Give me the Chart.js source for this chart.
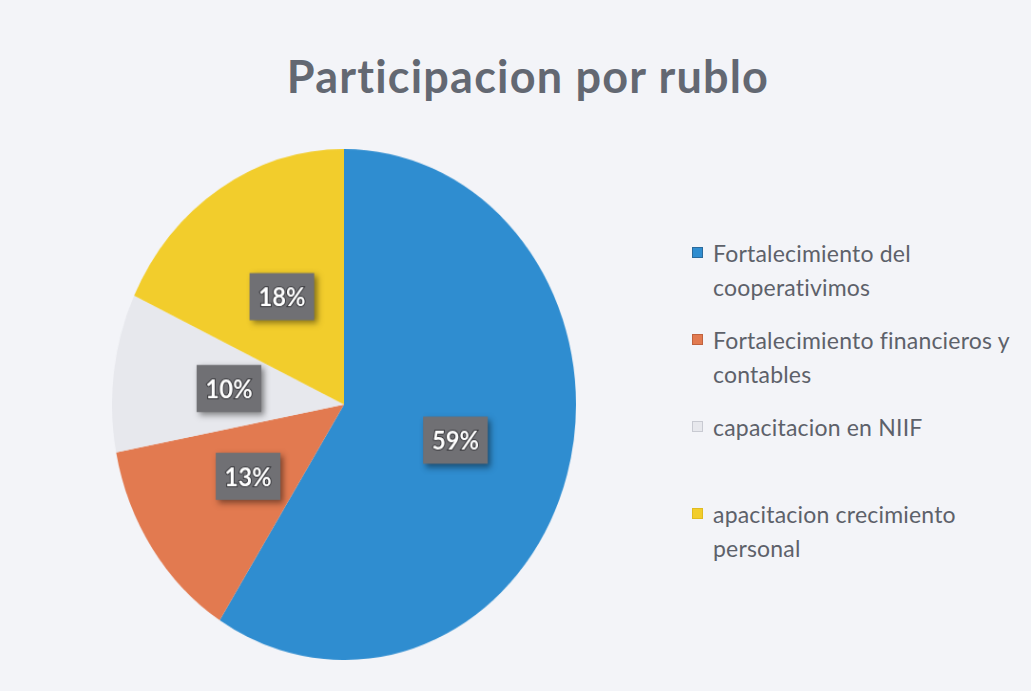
<!DOCTYPE html>
<html>
<head>
<meta charset="utf-8">
<script src="https://cdn.jsdelivr.net/npm/chart.js@4.4.1/dist/chart.umd.min.js"></script>
<style>
  html, body { margin: 0; padding: 0; background: #f3f4f8; }
  #wrap { position: relative; width: 1031px; height: 691px; overflow: hidden; }
  #title {
    position: absolute; left: 0; width: 1056px; top: 49px; text-align: center;
    font-family: Lato, "Open Sans", sans-serif; font-weight: bold; font-size: 45px;
    color: #636872; letter-spacing: 1.2px;
  }
  #myChart { position: absolute; left: 112px; top: 149px; }
  #legend { position: absolute; left: 692px; top: 236px; font-family: Lato, "Open Sans", sans-serif;
    font-size: 23px; color: #5d616a; line-height: 34px; letter-spacing: 0.2px; }
  .item { position: relative; height: 87px; padding-left: 21px; width: 330px; }
  .box { position: absolute; left: 0; top: 11px; width: 9px; height: 9px; }
</style>
</head>
<body>
<div id="wrap">
  <div id="title">Participacion por rublo</div>
  <canvas id="myChart" width="488" height="488"></canvas>
  <div id="legend"></div>
</div>
<script>
var labels = [
  ["Fortalecimiento del", "cooperativimos"],
  ["Fortalecimiento financieros y", "contables"],
  ["capacitacion en NIIF"],
  ["apacitacion crecimiento", "personal"]
];
var values = [59, 13, 10, 18];
var sliceColors = ["#2f8dd0", "#e27a50", "#e7e8ed", "#f2cd2c"];
var boxBorders = ["#2a6a9c", "#c0623e", "#c8cad2", "#e0bb20"];

// percent boxes drawn at each arc's centre point
var pctLabels = {
  id: "pctLabels",
  afterDatasetsDraw: function (chart) {
    var ctx = chart.ctx;
    var total = values.reduce(function (a, b) { return a + b; }, 0);
    chart.getDatasetMeta(0).data.forEach(function (arc, i) {
      var p = arc.getCenterPoint();
      var txt = Math.round(values[i] / total * 100) + "%";
      var w = 68, h = 45;
      ctx.save();
      ctx.shadowColor = "rgba(0,0,0,0.45)";
      ctx.shadowBlur = 6;
      ctx.shadowOffsetX = 3;
      ctx.shadowOffsetY = 3;
      ctx.fillStyle = "#707074";
      ctx.fillRect(p.x - w / 2, p.y - h / 2, w, h);
      ctx.restore();
      ctx.save();
      ctx.font = "bold 25px Lato";
      ctx.textAlign = "center";
      ctx.textBaseline = "middle";
      ctx.lineWidth = 2;
      ctx.strokeStyle = "#3a3a3e";
      ctx.strokeText(txt, p.x, p.y + 1);
      ctx.fillStyle = "#ffffff";
      ctx.fillText(txt, p.x, p.y + 1);
      ctx.restore();
    });
  }
};

var ch = document.getElementById("myChart");
var myChart = new Chart(ch, {
  type: "pie",
  data: {
    labels: labels,
    datasets: [
      {
        data: values,
        backgroundColor: sliceColors,
        borderColor: sliceColors,
        borderWidth: 0
      }
    ]
  },
  options: {
    responsive: false,
    animation: false,
    layout: { padding: 0 },
    plugins: {
      legend: { display: false },
      tooltip: { enabled: false }
    }
  },
  plugins: [pctLabels]
});
// the scanned pie is a bit taller than wide
ch.style.width = "464px";
ch.style.height = "511px";

// html legend from the chart labels
var lg = document.getElementById("legend");
labels.forEach(function (l, i) {
  var d = document.createElement("div");
  d.className = "item";
  var b = document.createElement("span");
  b.className = "box";
  b.style.background = sliceColors[i];
  b.style.border = "1px solid " + boxBorders[i];
  d.appendChild(b);
  var t = document.createElement("div");
  t.innerHTML = l.join("<br>");
  d.appendChild(t);
  lg.appendChild(d);
});
</script>
</body>
</html>
